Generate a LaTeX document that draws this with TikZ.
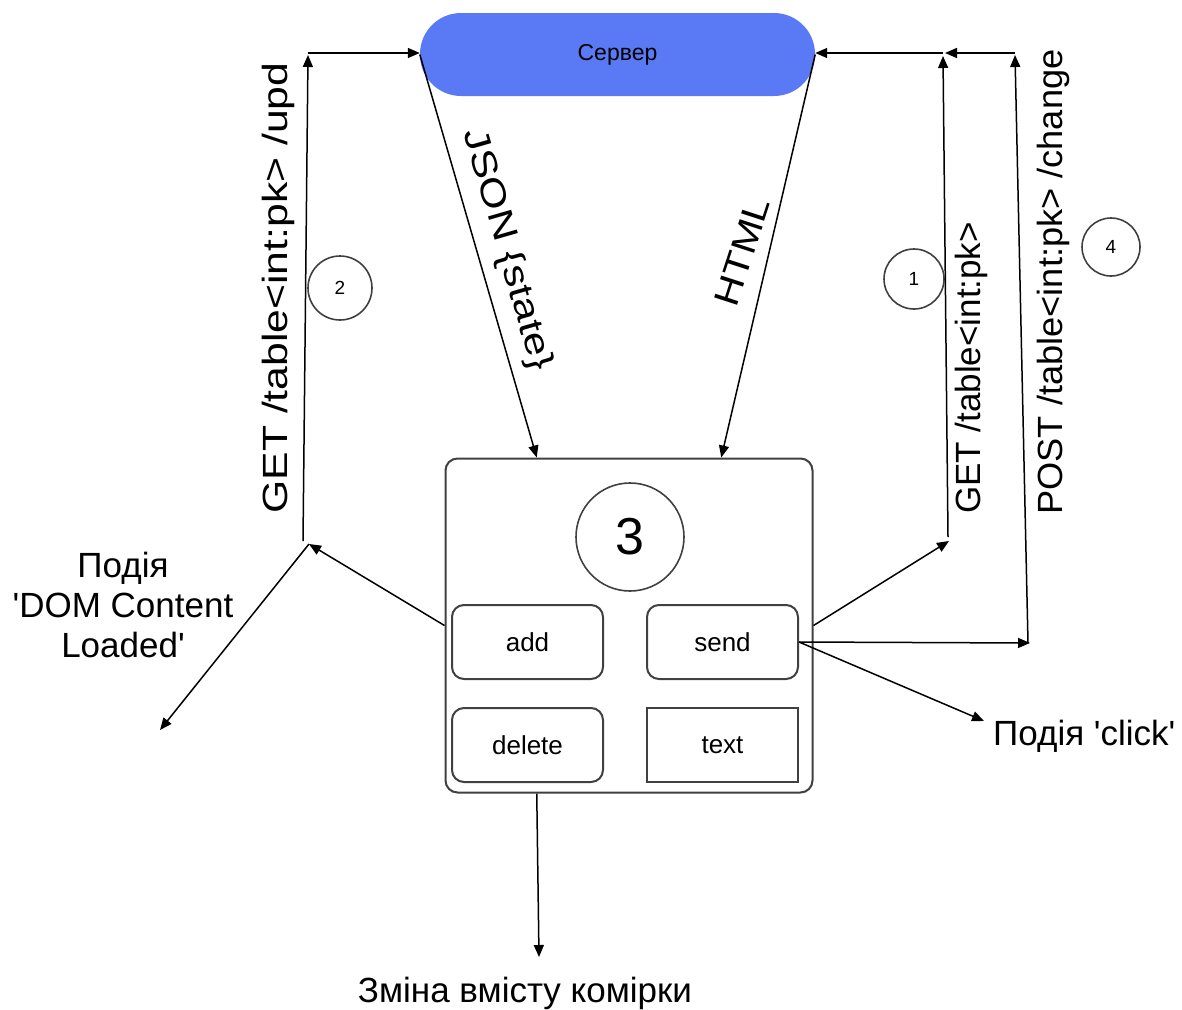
\documentclass[tikz,border=0pt]{standalone}
\usepackage{fontspec}
\setmainfont{Liberation Sans}[Ligatures=TeXOff]
\usepackage{graphicx}
\usetikzlibrary{arrows.meta,calc}
\definecolor{srvblue}{RGB}{90,122,245}
\definecolor{edgegray}{RGB}{64,64,64}
\begin{document}
\begin{tikzpicture}[x=1pt,y=-1pt,
  arr/.style={-{Triangle[length=12pt,width=10pt]}, line width=1.5pt, black},
  btn/.style={draw=edgegray, line width=2pt, rounded corners=12pt, minimum width=151pt, minimum height=74pt, inner sep=0pt, font=\fontsize{26}{30}\selectfont},
  num/.style={circle, draw=edgegray, line width=1.6pt, inner sep=0pt, font=\fontsize{19}{21}\selectfont},
  lbl/.style={inner sep=0pt, font=\fontsize{35}{40}\selectfont}]
\useasboundingbox (0,0) rectangle (1182,1009);

% server
\node[fill=srvblue, rounded corners=41pt, minimum width=395pt, minimum height=83pt, inner sep=0pt,
      font=\fontsize{23}{27}\selectfont] (server) at (617.5,54.5) {Сервер};

% component box
\node[draw=edgegray, line width=2pt, rounded corners=12pt, minimum width=367pt, minimum height=334pt, inner sep=0pt] (box) at (629,625.5) {};
\node[num, minimum size=108pt, font=\fontsize{52}{56}\selectfont] (c3) at (630,537) {3};
\node[btn] (add) at (527.5,642) {add};
\node[btn] (send) at (722.5,642) {send};
\node[btn] (del) at (527.5,745) {delete};
\node[btn, sharp corners] (txt) at (722.5,745) {text};

% numbered circles
\node[num, minimum size=64pt] (c2) at (340,288) {2};
\node[num, minimum size=60pt] (c1) at (914,279) {1};
\node[num, minimum size=58pt] (c4) at (1111,247) {4};

% junction points
\coordinate (jL) at (309,544);
\coordinate (jLb) at (303,541);
\coordinate (jLt) at (308,53);
\coordinate (dom) at (160,730);
\coordinate (jR) at (949,541);
\coordinate (jRb) at (948,537);
\coordinate (jRt) at (943,53);
\coordinate (jP) at (1030,643);
\coordinate (jPb) at (1028,643);
\coordinate (jPt) at (1015,53);
\coordinate (click) at (984,721);
\coordinate (chg) at (539,957);

% connectors
\draw[arr] (box.west) -- (jL);
\draw[arr] (jL) -- (dom);
\draw[arr] (jLb) -- ($(jLt)+(0,2)$);
\draw[arr] (jLt) -- (server.west |- jLt);
\draw[arr] (server.west) -- ($(box.north west)!0.25!(box.north east)$);
\draw[arr] (server.east) -- ($(box.north west)!0.75!(box.north east)$);
\draw[arr] (box.east) -- (jR);
\draw[arr] (jRb) -- ($(jRt)+(0,3)$);
\draw[arr] (jRt) -- (server.east |- jRt);
\draw[arr] (jPt) -- ($(jRt)+(2,0)$);
\draw[arr] (jPb) -- ($(jPt)+(0,2)$);
\draw[arr] (send.east) -- (jP);
\draw[arr] (send.east) -- (click);
\draw[arr] ($(box.south west)!0.25!(box.south east)$) -- (chg);

% labels
\node[lbl, rotate=90, anchor=base] (lget) at (287,288) {\resizebox{451pt}{\height}{GET /table<int:pk> /upd}};
\node[lbl, rotate=90, anchor=base] (rget) at (980,368) {GET /table<int:pk>};
\node[lbl, rotate=90, anchor=base] (post) at (1062,282) {\resizebox{465pt}{\height}{POST /table<int:pk> /change}};
\node[lbl, rotate=-74] (json) at (507,250) {\resizebox{250pt}{\height}{JSON \{state\}}};
\node[lbl, rotate=72] (html) at (742,252) {\resizebox{112pt}{\height}{HTML}};
\node[lbl, align=center] (domlbl) at (123,605) {Подія\\'DOM Content\\Loaded'};
\node[lbl, anchor=base west] (clk) at (993,745) {Подія 'click'};
\node[lbl, anchor=base] (chglbl) at (525,1002) {Зміна вмісту комірки};
\end{tikzpicture}
\end{document}
